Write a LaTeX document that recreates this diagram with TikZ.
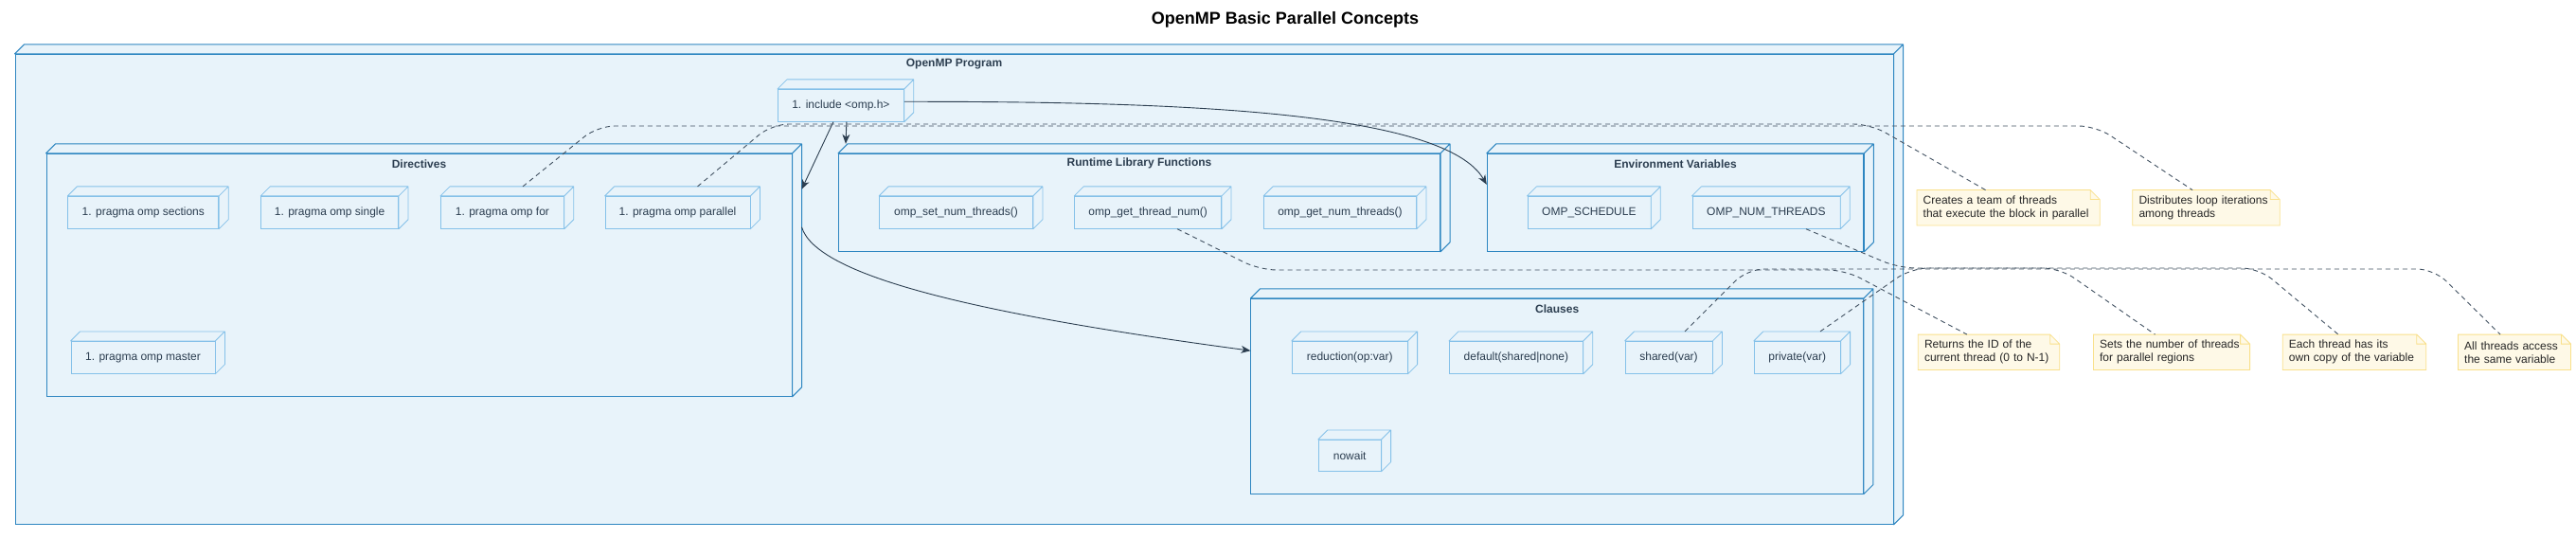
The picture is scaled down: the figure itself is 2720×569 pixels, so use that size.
\documentclass[tikz,border=0pt]{standalone}
\usepackage{fontspec}
\setmainfont{Liberation Sans}
\usetikzlibrary{arrows.meta,calc}

\definecolor{grpline}{HTML}{2E86C1}
\definecolor{leafline}{HTML}{85C1E9}
\definecolor{grpfill}{HTML}{E8F3FA}
\definecolor{inkdark}{HTML}{2C3E50}
\definecolor{notefill}{HTML}{FEF9E7}
\definecolor{noteline}{HTML}{F9E08B}

% 3D side of a node box
\newcommand{\boxdepth}[2]{%
  \filldraw[#2, line join=round] (#1.north west) -- ++(10,-10) -| ($(#1.south east)+(10,-10)$) -- (#1.south east) -- (#1.north east) -- cycle (#1.north east) -- ++(10,-10);}
% folded corner of a note
\newcommand{\notefold}[1]{%
  \fill[white] ($(#1.north east)+(-10,0)$) -- (#1.north east) -- ++(0,10) -- cycle;
  \draw[noteline, line width=0.8pt] (#1.north west) -- ($(#1.north east)+(-10,0)$) -- ++(10,10) |- (#1.south west) -- cycle ($(#1.north east)+(-10,0)$) |- ++(10,10);}

\tikzset{
  grp/.style={draw=grpline, fill=grpfill, line width=1pt, inner sep=0pt},
  grptitle/.style={font=\bfseries\fontsize{12}{14}\selectfont, text=inkdark, anchor=center, yshift=-11pt},
  leaf/.style={draw=leafline, fill=grpfill, line width=0.8pt, minimum height=34pt, inner sep=0pt, font=\fontsize{12}{14}\selectfont, text=inkdark},
  note/.style={fill=notefill, minimum height=37pt, inner xsep=6.5pt, align=left, font=\fontsize{12}{14}\selectfont, text=black!85},
  flow/.style={draw=inkdark, line width=0.9pt, -{Stealth[length=10pt,width=8pt,inset=3pt]}},
  tie/.style={draw=inkdark!90, line width=0.9pt, dash pattern=on 5pt off 4pt, rounded corners=18pt},
}

\begin{document}
\begin{tikzpicture}[x=1pt, y=-1pt]
    \useasboundingbox (0,0) rectangle (2720,569);

    % Title
    \node[font=\bfseries\fontsize{18}{22}\selectfont] (title) at (1357,21) {OpenMP Basic Parallel Concepts};

    % Program
    \node[grp, minimum width=1983pt, minimum height=496pt, label={[grptitle]north:OpenMP Program}] (prog) at (1007.5,305.3) {};
    \node[leaf, minimum width=133pt] (inc) at (887.9,111.3) {1. include <omp.h>};

    % Directives
    \node[grp, minimum width=787pt, minimum height=256pt, label={[grptitle]north:Directives}] (dirs) at (442.5,290.3) {};
    \node[leaf, minimum width=159pt] (sec) at (151.3,224.3) {1. pragma omp sections};
    \node[leaf, minimum width=145pt] (single) at (348.1,224.3) {1. pragma omp single};
    \node[leaf, minimum width=130pt] (ompfor) at (530.4,224.3) {1. pragma omp for};
    \node[leaf, minimum width=153pt] (par) at (715.5,224.3) {1. pragma omp parallel};
    \node[leaf, minimum width=152pt] (master) at (151,377.3) {1. pragma omp master};

    % Runtime library
    \node[grp, minimum width=635pt, minimum height=103pt, label={[grptitle]north:Runtime Library Functions}] (runtime) at (1203,213.8) {};
    \node[leaf, minimum width=162pt] (setn) at (1009.5,224.3) {omp\_set\_num\_threads()};
    \node[leaf, minimum width=155pt] (getid) at (1212.1,224.3) {omp\_get\_thread\_num()};
    \node[leaf, minimum width=161pt] (getn) at (1415,224.3) {omp\_get\_num\_threads()};

    % Environment
    \node[grp, minimum width=397.5pt, minimum height=103pt, label={[grptitle]north:Environment Variables}] (envvars) at (1769,213.8) {};
    \node[leaf, minimum width=130pt] (sched) at (1677.9,224.3) {OMP\_SCHEDULE};
    \node[leaf, minimum width=156pt] (numth) at (1864.9,224.3) {OMP\_NUM\_THREADS};

    % Clauses
    \node[grp, minimum width=646.5pt, minimum height=205.7pt, label={[grptitle]north:Clauses}] (clauses) at (1644.2,418.2) {};
    \node[leaf, minimum width=122pt] (red) at (1425.2,377.3) {reduction(op:var)};
    \node[leaf, minimum width=141pt] (dflt) at (1600.9,377.3) {default(shared|none)};
    \node[leaf, minimum width=92pt] (shrd) at (1762,377.3) {shared(var)};
    \node[leaf, minimum width=91pt] (priv) at (1897.7,377.3) {private(var)};
    \node[leaf, minimum width=66pt, minimum height=33pt] (nowait) at (1425.2,480.8) {nowait};

    \foreach \n in {prog,dirs,runtime,envvars,clauses} \boxdepth{\n}{grp};
    \foreach \n in {inc,sec,single,ompfor,par,master,setn,getid,getn,sched,numth,red,dflt,shrd,priv,nowait} \boxdepth{\n}{draw=leafline, fill=grpfill, line width=0.8pt};

    % Arrows
    \draw[flow] ($(inc.south)+(-8,0)$) -- ($(dirs.north east)+(10,38)$);
    \draw[flow] ($(inc.south)+(6,0)$) -- ($(runtime.north west)+(8,-10)$);
    \draw[flow] ($(inc.east)+(0,-4)$) .. controls (1250,107) and (1525,118) .. ($(envvars.west)+(0,-19)$);
    \draw[flow] ($(dirs.north east)+(10,78)$) .. controls (862,290) and (1020,330) .. ($(clauses.west)+(0,-48)$);

    % Notes
    \node[note, text width=179.8pt] (nteam) at (2120.6,219.3) {Creates a team of threads\\that execute the block in parallel};
    \node[note, text width=142pt] (nloop) at (2329.5,219.3) {Distributes loop iterations\\among threads};
    \node[note, text width=136pt] (nid) at (2100,371.8) {Returns the ID of the\\current thread (0 to N-1)};
    \node[note, text width=151.8pt] (nset) at (2293,371.8) {Sets the number of threads\\for parallel regions};
    \node[note, text width=138.2pt] (ncopy) at (2486,371.8) {Each thread has its\\own copy of the variable};
    \node[note, text width=105.7pt] (nsame) at (2655,371.8) {All threads access\\the same variable};
    \foreach \n in {nteam,nloop,nid,nset,ncopy,nsame} \notefold{\n};

    \draw[tie] ($(par.north)+(21,-10)$) -- (815,131) -- (1975,131) -- ($(nteam.north)+(-24,0)$);
    \draw[tie] ($(ompfor.north)+(21.6,-10)$) -- (631,133) -- (2213,133) -- ($(nloop.north)+(-14.5,0)$);
    \draw[tie] ($(getid.south)+(31,0)$) -- (1330,285) -- (1948,285) -- ($(nid.north)+(-23,0)$);
    \draw[tie] ($(numth.south)+(42,0)$) -- (2005,283) -- (2175,283) -- ($(nset.north)+(-17.5,0)$);
    \draw[tie] ($(priv.north)+(24.3,-10)$) -- (2018,283) -- (2385,283) -- ($(ncopy.north)+(-17,0)$);
    \draw[tie] ($(shrd.north)+(17,-10)$) -- (1845,284) -- (2570,284) -- ($(nsame.north)+(-15,0)$);
\end{tikzpicture}
\end{document}
